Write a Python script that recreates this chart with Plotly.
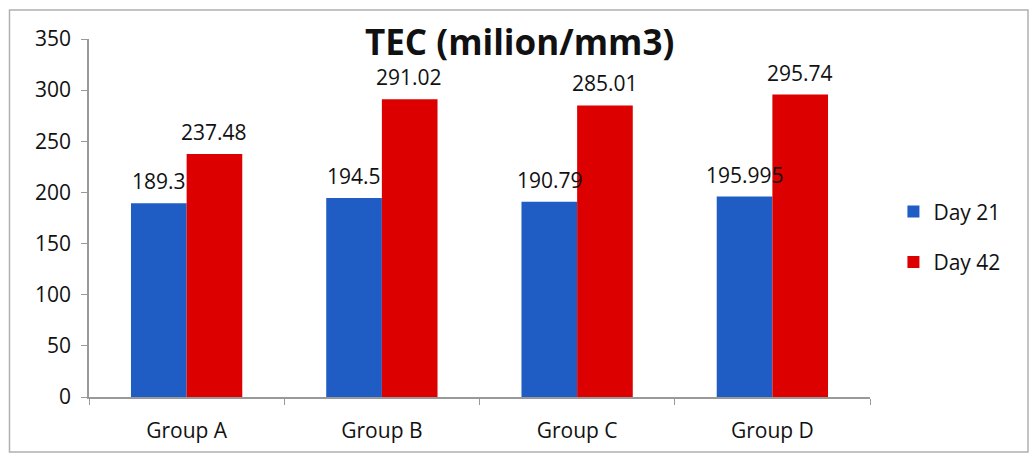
import plotly.graph_objects as go

groups = ["Group A", "Group B", "Group C", "Group D"]
day21 = [189.3, 194.5, 190.79, 195.995]
day42 = [237.48, 291.02, 285.01, 295.74]
day21_labels = ["189.3", "194.5", "190.79", "195.995"]
day42_labels = ["237.48", "291.02", "285.01", "295.74"]
y_ticks = [0, 50, 100, 150, 200, 250, 300, 350]

FONT = "Open Sans, Lato, sans-serif"
LBL = 21

fig = go.Figure()
fig.add_bar(x=groups, y=day21, name="Day 21", legendgroup="a",
            marker=dict(color="#1F5CC4", line=dict(width=0)))
fig.add_bar(x=groups, y=day42, name="Day 42", legendgroup="b",
            marker=dict(color="#DD0000", line=dict(width=0)))

# data labels as annotations anchored to each bar's value
for g, v, t in zip(groups, day21, day21_labels):
    fig.add_annotation(x=g, y=v, text=t, showarrow=False, xshift=-27.5, yanchor="bottom", yshift=6,
                       font=dict(size=LBL, family=FONT, color="#111111"))
for g, v, t in zip(groups, day42, day42_labels):
    fig.add_annotation(x=g, y=v, text=t, showarrow=False, xshift=27.5, yanchor="bottom", yshift=6,
                       font=dict(size=LBL, family=FONT, color="#111111"))

fig.update_layout(
    width=1029, height=460,
    margin=dict(l=89, r=159, t=39, b=63),
    paper_bgcolor="white", plot_bgcolor="white",
    barmode="group", bargap=0.43, bargroupgap=0.0,
    font=dict(family=FONT, color="#111111"),
    title=dict(text="<b>TEC (milion/mm3)</b>", x=0.505, xanchor="center", y=0.908, yanchor="middle",
               font=dict(size=35, family=FONT, color="#111111")),
    legend=dict(x=1.03, y=0.447, xanchor="left", yanchor="middle", font=dict(size=21, family=FONT),
                itemwidth=30, tracegroupgap=20, bgcolor="rgba(0,0,0,0)"),
    showlegend=True,
)
fig.update_xaxes(showline=True, linecolor="#999999", linewidth=1.5, ticks="outside",
                 tickson="boundaries", ticklen=6, tickcolor="#999999", ticklabelstandoff=14,
                 tickfont=dict(size=21, family=FONT), showgrid=False)
fig.update_yaxes(range=[0, 350], tickvals=y_ticks, showline=True, linecolor="#999999", linewidth=1.5,
                 ticks="outside", ticklen=6, tickcolor="#999999", showgrid=False, zeroline=False,
                 ticklabelstandoff=6, tickfont=dict(size=21, family=FONT))

fig.add_shape(type="rect", xref="paper", yref="paper", x0=-0.1018, x1=1.2023, y0=-0.1536, y1=1.081,
              line=dict(color="#B0B0B0", width=1.5), fillcolor="rgba(0,0,0,0)", layer="below")

fig.write_html("out.html")
